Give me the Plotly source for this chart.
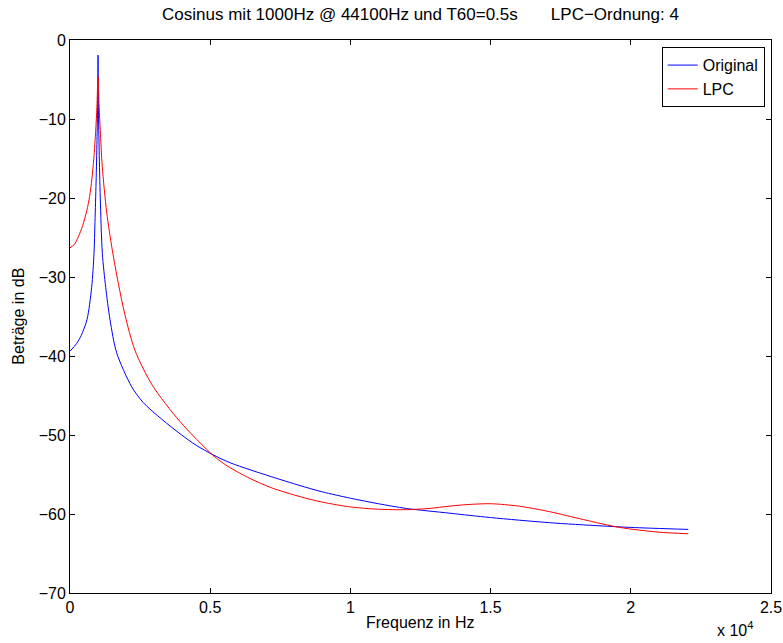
import plotly.graph_objects as go

# Values (frequency in Hz, magnitude in dB)
orig_freq = [0, 240, 400, 606, 773, 856, 891, 930, 963, 985, 995, 1000,
             1005, 1015, 1040, 1080, 1153, 1273, 1427, 1665, 2200, 2614,
             3270, 3983, 4500, 5100, 5700, 6420, 7200, 8200, 9000,
             10000, 11000, 12000, 13550, 15000, 17100, 18900, 20000, 22050]
orig_db = [-39.4, -38.4, -37.4, -35.4, -31.3, -27.0, -23.0, -18.0, -12.7, -8.5,
           -5.0, -1.9, -5.0, -9.0, -14.0, -20.0, -27.0, -31.3, -35.4, -39.6,
           -43.9, -45.9, -48.0, -50.0, -51.3, -52.5, -53.5,
           -54.4, -55.3, -56.4, -57.2, -58.0, -58.7, -59.3, -59.9, -60.45,
           -61.1, -61.5, -61.7, -61.95]

lpc_freq = [0, 150, 300, 450, 600, 700, 780, 850, 916, 960, 1000, 1040, 1080,
            1150, 1308, 1509, 1723, 1961, 2318, 2935, 3923, 5110, 5600, 6420,
            7200, 8200, 9000, 10000, 11000, 12000, 12800, 13550, 14200, 15000,
            16000, 17100, 18300, 19600, 21000, 22050]
lpc_db = [-26.3, -25.9, -24.9, -23.5, -21.6, -19.8, -17.6, -15.0, -11.5, -8.5,
          -4.6, -8.5, -11.5, -16.0, -21.8, -26.6, -30.8, -34.8, -39.3, -43.7,
          -48.3, -52.6, -53.9, -55.5, -56.7, -57.8, -58.5, -59.1, -59.4,
          -59.45, -59.3, -59.0, -58.8, -58.7, -59.0, -59.7, -60.7, -61.7,
          -62.3, -62.5]

x_ticks = [0, 5000, 10000, 15000, 20000, 25000]
x_labels = ["0", "0.5", "1", "1.5", "2", "2.5"]
y_ticks = [-70, -60, -50, -40, -30, -20, -10, 0]
y_labels = ["\u221270", "\u221260", "\u221250", "\u221240", "\u221230", "\u221220", "\u221210", "0"]

font = "Liberation Sans, Arial, Helvetica, sans-serif"
fs = 16

fig = go.Figure()
fig.add_trace(go.Scatter(x=orig_freq, y=orig_db, mode="lines", name="Original",
                         line=dict(color="#0000ff", width=1, shape="spline", smoothing=0.8)))
fig.add_trace(go.Scatter(x=lpc_freq, y=lpc_db, mode="lines", name="LPC",
                         line=dict(color="#ff0000", width=1, shape="spline", smoothing=0.8)))

axis_style = dict(showgrid=False, zeroline=False, showline=True, linecolor="black",
                  linewidth=1, mirror="ticks", ticks="inside", ticklen=5,
                  tickcolor="black", tickfont=dict(size=fs, color="black"),
                  automargin=False)

fig.update_xaxes(range=[0, 25000], tickvals=x_ticks, ticktext=x_labels, **axis_style)
fig.update_yaxes(range=[-70, 0], tickvals=y_ticks, ticktext=y_labels, **axis_style)

# axis titles and exponent as annotations for exact placement
fig.add_annotation(text="Frequenz in Hz", xref="paper", yref="paper", x=0.5, y=-0.054,
                   xanchor="center", yanchor="middle", showarrow=False,
                   font=dict(size=fs, color="black"))
fig.add_annotation(text="Beträge in dB", xref="paper", yref="paper", x=-0.074, y=0.5,
                   xanchor="center", yanchor="middle", textangle=-90, showarrow=False,
                   font=dict(size=fs, color="black"))
fig.add_annotation(text="x 10<sup>4</sup>", xref="paper", yref="paper", x=0.977, y=-0.066,
                   xanchor="right", yanchor="middle", showarrow=False,
                   font=dict(size=fs, color="black"))

fig.update_layout(
    width=783, height=643,
    margin=dict(l=70, r=12, t=40, b=50),
    paper_bgcolor="white", plot_bgcolor="white",
    font=dict(family=font, size=fs, color="black"),
    title=dict(text="Cosinus mit 1000Hz @ 44100Hz und T60=0.5s" + "\u00a0" * 7 + "LPC\u2212Ordnung: 4",
               x=0.5, xref="paper", xanchor="center", y=1 - 14 / 643, yanchor="middle",
               font=dict(size=17, color="black")),
    legend=dict(x=0.991, y=0.987, xanchor="right", yanchor="top",
                bordercolor="black", borderwidth=1, bgcolor="white",
                font=dict(size=fs, color="black"), tracegroupgap=0),
    showlegend=True,
)

# drop the default page margin so the figure sits at the window's corner
fig.write_html("out.html", config={"displayModeBar": False},
               post_script="document.body.style.margin='0';")
